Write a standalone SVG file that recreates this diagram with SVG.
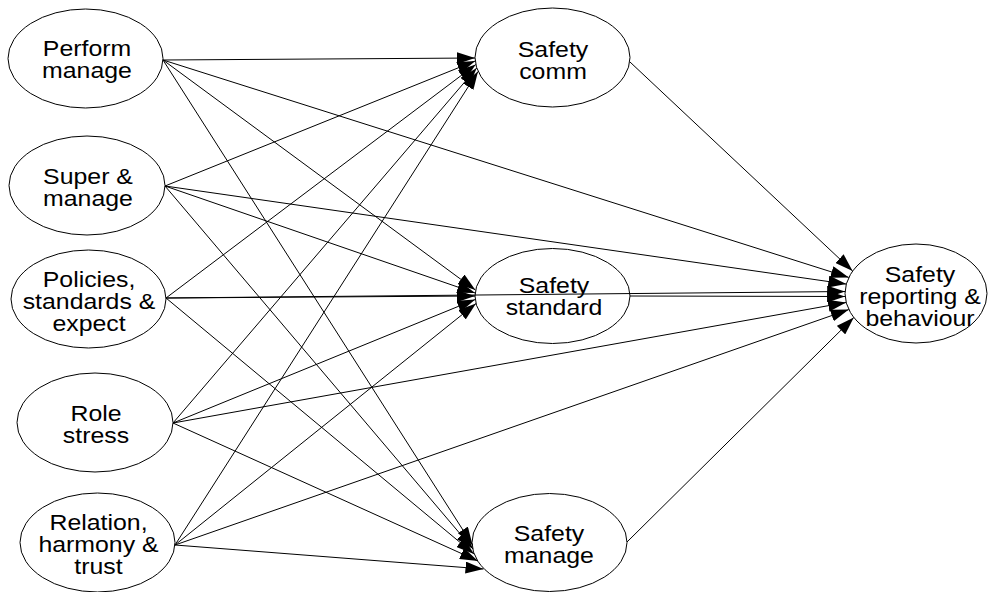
<svg xmlns="http://www.w3.org/2000/svg" width="988" height="592" viewBox="0 0 988 592">
<style>
.n ellipse{fill:#fff;stroke:#000;stroke-width:1}
.n text{font-family:"Liberation Sans",Arial,sans-serif;font-size:22px;text-anchor:middle;fill:#000}
.e line{stroke:#000;stroke-width:1;marker-end:url(#ah)}
</style>
<defs>
<marker id="ah" markerUnits="userSpaceOnUse" markerWidth="18" markerHeight="12" viewBox="0 0 18 12" refX="18" refY="6" orient="auto">
<path d="M0,0 L18,6 L0,12 z" fill="#000"/>
</marker>
</defs>
<rect width="988" height="592" fill="#fff"/>
<g id="perform" class="n"><ellipse cx="85.5" cy="58.5" rx="77.5" ry="49.5"/><g transform="translate(87,0) scale(1.13,1)"><text x="0" y="56.5">Perform</text><text x="0" y="78.5">manage</text></g></g>
<g id="super" class="n"><ellipse cx="87" cy="185.5" rx="78" ry="49.5"/><g transform="translate(88,0) scale(1.13,1)"><text x="0" y="184">Super &amp;</text><text x="0" y="206">manage</text></g></g>
<g id="policies" class="n"><ellipse cx="88.5" cy="299" rx="77.5" ry="49"/><g transform="translate(89,0) scale(1.13,1)"><text x="0" y="287">Policies,</text><text x="0" y="309">standards &amp;</text><text x="0" y="331">expect</text></g></g>
<g id="role" class="n"><ellipse cx="95" cy="422.5" rx="78" ry="49.5"/><g transform="translate(96,0) scale(1.13,1)"><text x="0" y="421">Role</text><text x="0" y="443">stress</text></g></g>
<g id="relation" class="n"><ellipse cx="97.5" cy="542.5" rx="77.5" ry="49.5"/><g transform="translate(98.5,0) scale(1.13,1)"><text x="0" y="530">Relation,</text><text x="0" y="552">harmony &amp;</text><text x="0" y="574">trust</text></g></g>
<g id="comm" class="n"><ellipse cx="552.5" cy="57.5" rx="77.5" ry="49.5"/><g transform="translate(553,0) scale(1.13,1)"><text x="0" y="57">Safety</text><text x="0" y="79">comm</text></g></g>
<g id="standard" class="n"><ellipse cx="552.5" cy="296" rx="77.5" ry="47.5"/><g transform="translate(554,0) scale(1.13,1)"><text x="0" y="293">Safety</text><text x="0" y="315">standard</text></g></g>
<g id="manage" class="n"><ellipse cx="549.5" cy="542.5" rx="77.5" ry="49"/><g transform="translate(549,0) scale(1.13,1)"><text x="0" y="541">Safety</text><text x="0" y="563">manage</text></g></g>
<g id="reporting" class="n"><ellipse cx="916" cy="293.5" rx="71" ry="49.5"/><g transform="translate(920,0) scale(1.13,1)"><text x="0" y="282">Safety</text><text x="0" y="304">reporting &amp;</text><text x="0" y="326">behaviour</text></g></g>
<g id="connectors" class="e">
<line x1="163" y1="60" x2="475" y2="58"/>
<line x1="165" y1="186" x2="475.2" y2="61"/>
<line x1="166" y1="298" x2="475.8" y2="64.5"/>
<line x1="173" y1="423" x2="476.7" y2="68"/>
<line x1="175" y1="545" x2="478" y2="71.5"/>
<line x1="163" y1="60" x2="475.4" y2="290"/>
<line x1="165" y1="186" x2="475.1" y2="293"/>
<line x1="166" y1="298" x2="475" y2="296"/>
<line x1="173" y1="423" x2="475.2" y2="299.5"/>
<line x1="175" y1="545" x2="476" y2="303.5"/>
<line x1="163" y1="60" x2="472.5" y2="545"/>
<line x1="165" y1="186" x2="473" y2="549"/>
<line x1="166" y1="298" x2="474" y2="554"/>
<line x1="173" y1="423" x2="478" y2="561"/>
<line x1="175" y1="545" x2="483.5" y2="569"/>
<line x1="630" y1="62" x2="852.6" y2="271"/>
<line x1="163" y1="60" x2="848.8" y2="277.4"/>
<line x1="165" y1="186" x2="846.3" y2="284.1"/>
<line x1="166" y1="298" x2="845.2" y2="291.5"/>
<line x1="630" y1="296" x2="845.1" y2="296.5"/>
<line x1="173" y1="423" x2="846.1" y2="302.5"/>
<line x1="175" y1="545" x2="848.8" y2="309.6"/>
<line x1="627" y1="542" x2="853.8" y2="317.5"/>
</g>
</svg>
